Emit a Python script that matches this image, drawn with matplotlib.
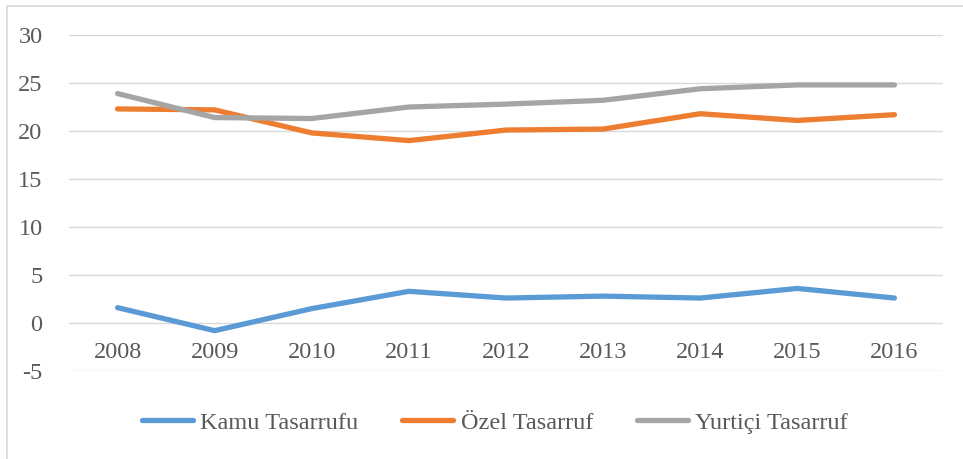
import matplotlib.pyplot as plt
from matplotlib.lines import Line2D

years = ['2008', '2009', '2010', '2011', '2012', '2013', '2014', '2015', '2016']
kamu = [1.6, -0.8, 1.5, 3.3, 2.6, 2.8, 2.6, 3.6, 2.6]
ozel = [22.3, 22.2, 19.8, 19.0, 20.1, 20.2, 21.8, 21.1, 21.7]
yurtici = [23.9, 21.4, 21.3, 22.5, 22.8, 23.2, 24.4, 24.8, 24.8]
yticks = [-5, 0, 5, 10, 15, 20, 25, 30]

series = [
    ('Kamu Tasarrufu', kamu, '#5B9BD5'),
    ('Özel Tasarruf', ozel, '#ED7D31'),
    ('Yurtiçi Tasarruf', yurtici, '#A5A5A5'),
]

plt.rcParams['font.family'] = ['Liberation Serif', 'DejaVu Serif']
text_color = '#595959'
fs = 17.5

W, H = 963, 459
fig = plt.figure(figsize=(W / 100, H / 100), dpi=100)
ax = fig.add_axes([69 / W, 1 - 371 / H, (943 - 69) / W, (371 - 35) / H])

x = list(range(len(years)))
for name, vals, color in series:
    ax.plot(x, vals, color=color, lw=3.8, solid_capstyle='round',
            solid_joinstyle='round', label=name, zorder=3)

ax.set_xlim(-0.5, len(years) - 0.5)
ax.set_ylim(-5, 30)
ax.set_yticks(yticks)
ax.set_yticklabels([str(t) for t in yticks])
ax.set_xticks(x)
ax.set_xticklabels(years)
ax.grid(axis='y', color='#D9D9D9', lw=1.0, zorder=0)
for s in ax.spines.values():
    s.set_visible(False)
ax.spines['bottom'].set_position(('data', 0))
ax.tick_params(length=0, labelsize=fs, labelcolor=text_color)
ax.tick_params(axis='y', pad=19)
ax.tick_params(axis='x', pad=14)

handles = [Line2D([0], [0], color=c, lw=3.8, solid_capstyle='round') for _, _, c in series]
fig.legend(handles, [n for n, _, _ in series], loc='center', ncol=3,
           bbox_to_anchor=(495 / W, 1 - 423 / H), frameon=False,
           fontsize=fs, labelcolor=text_color, handlelength=2.1,
           handletextpad=0.3, columnspacing=1.8)

# chart frame (cropped on right and bottom)
fig.add_artist(Line2D([7 / W, 7 / W, 1.0], [0.0, 1 - 5.5 / H, 1 - 5.5 / H],
                      transform=fig.transFigure, color='#D9D9D9', lw=1.2))

fig.savefig('out.png', dpi=100, facecolor='white')
